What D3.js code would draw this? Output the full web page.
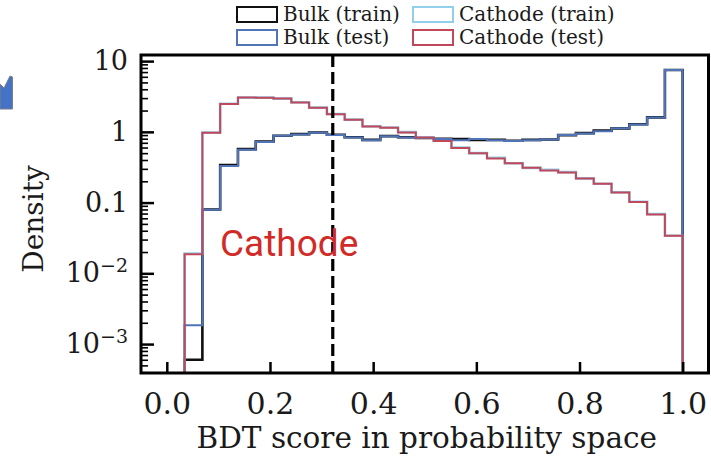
<!DOCTYPE html>
<html>
<head>
<meta charset="utf-8">
<script src="https://cdn.jsdelivr.net/npm/d3@7"></script>
<style>
  body { margin: 0; background: #fff; }
  svg text { font-family: "DejaVu Serif", serif; fill: #1a1a1a; }
  .axis .domain { display: none; }
  .axis line { stroke: #000; }
</style>
</head>
<body>
<div class="chart"></div>
<script>
const WIDTH = 711, HEIGHT = 459;
const LEFT = 141, RIGHT = 708.5, TOP = 55, BOTTOM = 373;

// 29 equal bins on [0, 1]
const N_BINS = 29;
const binEdges = d3.range(N_BINS + 1).map(k => k / N_BINS);

// densities per bin (0 = empty bin)
const bulkTrain = [0, 0.0006, 0.08, 0.34, 0.57, 0.73, 0.88, 0.93, 0.98, 0.91, 0.84, 0.77, 0.87, 0.84, 0.82,
  0.80, 0.79, 0.77, 0.77, 0.75, 0.77, 0.78, 0.90, 0.96, 1.04, 1.12, 1.28, 1.60, 7.5];
const bulkTest = [0, 0.00185, 0.079, 0.33, 0.56, 0.72, 0.88, 0.92, 0.97, 0.90, 0.83, 0.76, 0.87, 0.83, 0.82,
  0.79, 0.76, 0.79, 0.76, 0.74, 0.76, 0.78, 0.90, 0.95, 1.02, 1.12, 1.27, 1.60, 7.46];
const cathodeTrain = [0, 0.019, 0.98, 2.49, 3.05, 3.05, 2.95, 2.62, 2.2, 1.79, 1.49, 1.2, 1.15, 0.99, 0.84,
  0.75, 0.60, 0.50, 0.43, 0.36, 0.31, 0.29, 0.27, 0.22, 0.185, 0.14, 0.103, 0.069, 0.034];
const cathodeTest = [0, 0.0186, 0.97, 2.47, 3.07, 3.03, 2.97, 2.61, 2.19, 1.78, 1.48, 1.19, 1.14, 0.98, 0.83,
  0.74, 0.59, 0.50, 0.42, 0.36, 0.31, 0.284, 0.266, 0.219, 0.184, 0.139, 0.102, 0.068, 0.034];

const SERIES = [
  { name: "Bulk (train)", values: bulkTrain, color: "#111111", width: 2.6 },
  { name: "Cathode (train)", values: cathodeTrain, color: "#92cfee", width: 2.6 },
  { name: "Bulk (test)", values: bulkTest, color: "#4f74b8", width: 2 },
  { name: "Cathode (test)", values: cathodeTest, color: "#c0485a", width: 2 }
];
const LEGEND_ORDER = ["Bulk (train)", "Cathode (train)", "Bulk (test)", "Cathode (test)"];

const xTicks = [0.0, 0.2, 0.4, 0.6, 0.8, 1.0];
const yTicks = [10, 1, 0.1, 0.01, 0.001];
const yTickLabels = [["10", ""], ["1", ""], ["0.1", ""], ["10", "\u22122"], ["10", "\u22123"]];
const cutValue = 0.3217;

const svg = d3.select(".chart").append("svg").attr("width", WIDTH).attr("height", HEIGHT);

const xScale = d3.scaleLinear().domain([-0.05, 1.05]).range([LEFT, RIGHT]);
const yScale = d3.scaleLog().domain([3.9e-4, 12.2]).range([BOTTOM, TOP]);

// clip for histograms
svg.append("clipPath").attr("id", "plot-clip")
  .append("rect").attr("x", LEFT).attr("y", TOP).attr("width", RIGHT - LEFT).attr("height", BOTTOM - TOP);

// step histograms
const line = d3.line().x(d => xScale(d[0])).y(d => d[1]);
const stepPoints = values => {
  const pts = [[binEdges[0], BOTTOM + 10]];
  values.forEach((v, i) => {
    const y = v > 0 ? yScale(v) : BOTTOM + 10;
    pts.push([binEdges[i], y], [binEdges[i + 1], y]);
  });
  pts.push([binEdges[N_BINS], BOTTOM + 10]);
  return pts;
};

svg.append("g").attr("clip-path", "url(#plot-clip)")
  .selectAll("path").data(SERIES).enter().append("path")
  .attr("d", d => line(stepPoints(d.values)))
  .attr("fill", "none")
  .attr("stroke", d => d.color)
  .attr("stroke-width", d => d.width)
  .attr("stroke-linejoin", "miter");

// cut line
svg.append("line")
  .attr("x1", xScale(cutValue)).attr("x2", xScale(cutValue))
  .attr("y1", TOP).attr("y2", BOTTOM)
  .attr("stroke", "#000").attr("stroke-width", 3.2)
  .attr("stroke-dasharray", "12,5");

// x axis
const xAxis = svg.append("g").attr("class", "axis")
  .attr("transform", `translate(0, ${BOTTOM})`)
  .call(d3.axisBottom(xScale).tickValues(xTicks).tickFormat(d3.format(".1f"))
    .tickSizeInner(-11).tickSizeOuter(0).tickPadding(20));
xAxis.selectAll("line").attr("stroke-width", 2.5);
xAxis.selectAll("text").attr("font-size", 30);

// y axis, minor ticks
const yMinor = [];
for (let e = -4; e <= 1; e++) {
  for (let m = 2; m <= 9; m++) {
    const v = m * Math.pow(10, e);
    if (v > 3.9e-4 && v < 12.2) yMinor.push(v);
  }
}
svg.append("g").attr("class", "axis")
  .attr("transform", `translate(${LEFT}, 0)`)
  .call(d3.axisLeft(yScale).tickValues(yMinor).tickFormat("").tickSizeInner(-7).tickSizeOuter(0))
  .selectAll("line").attr("stroke-width", 1.6);

// y axis, major ticks
const yAxis = svg.append("g").attr("class", "axis")
  .attr("transform", `translate(${LEFT}, 0)`)
  .call(d3.axisLeft(yScale).tickValues(yTicks).tickFormat("").tickSizeInner(-13).tickSizeOuter(0).tickPadding(13));
yAxis.selectAll("line").attr("stroke-width", 2.5);
yAxis.selectAll(".tick text").each(function(d, i) {
  const t = d3.select(this).attr("font-size", 27);
  const lab = yTickLabels[i];
  t.append("tspan").text(lab[0]);
  if (lab[1]) {
    t.append("tspan").attr("font-size", 19).attr("dy", "-0.55em").text(lab[1]);
  }
});

// frame
svg.append("rect")
  .attr("x", LEFT).attr("y", TOP).attr("width", RIGHT - LEFT).attr("height", BOTTOM - TOP)
  .attr("fill", "none").attr("stroke", "#000").attr("stroke-width", 3);

// axis labels
svg.append("text")
  .attr("x", (LEFT + RIGHT) / 2 + 2).attr("y", 448)
  .attr("text-anchor", "middle").attr("font-size", 29.5)
  .text("BDT score in probability space");

svg.append("text")
  .attr("transform", `translate(43, 219) rotate(-90)`)
  .attr("text-anchor", "middle").attr("font-size", 28)
  .text("Density");

// annotation
svg.append("text")
  .attr("x", 220).attr("y", 256)
  .attr("font-size", 37)
  .style("font-family", "Roboto, sans-serif")
  .style("fill", "#d12b27")
  .text("Cathode");

// legend
const legend = svg.append("g").attr("class", "legend");
const legendPos = [[237, 7], [413, 7], [237, 30], [413, 30]];
LEGEND_ORDER.forEach((name, i) => {
  const s = SERIES.find(d => d.name === name);
  const [lx, ly] = legendPos[i];
  legend.append("rect")
    .attr("x", lx).attr("y", ly).attr("width", 40).attr("height", 15)
    .attr("fill", "none").attr("stroke", s.color).attr("stroke-width", 2);
  legend.append("text")
    .attr("x", lx + 46).attr("y", ly + 14)
    .attr("font-size", 20)
    .text(name);
});

// partial arrow shape at left edge
svg.append("polygon")
  .attr("points", "0,84 4,88 10,76 12.5,77 12.5,109 0,109")
  .attr("fill", "#4472c4").attr("stroke", "#7a7f8a").attr("stroke-width", 1);
</script>
</body>
</html>
